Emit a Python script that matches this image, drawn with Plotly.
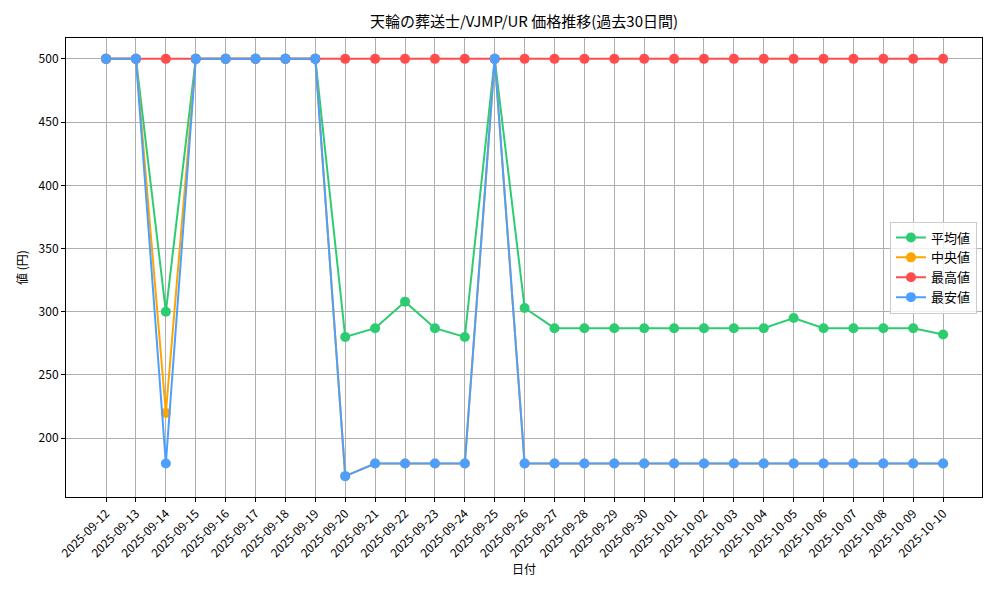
import plotly.graph_objects as go

# データ
dates = [
    "2025-09-12", "2025-09-13", "2025-09-14", "2025-09-15", "2025-09-16",
    "2025-09-17", "2025-09-18", "2025-09-19", "2025-09-20", "2025-09-21",
    "2025-09-22", "2025-09-23", "2025-09-24", "2025-09-25", "2025-09-26",
    "2025-09-27", "2025-09-28", "2025-09-29", "2025-09-30", "2025-10-01",
    "2025-10-02", "2025-10-03", "2025-10-04", "2025-10-05", "2025-10-06",
    "2025-10-07", "2025-10-08", "2025-10-09", "2025-10-10",
]
avg_price = [500, 500, 300, 500, 500, 500, 500, 500, 280, 287,
             308, 287, 280, 500, 303, 287, 287, 287, 287, 287,
             287, 287, 287, 295, 287, 287, 287, 287, 282]
median_price = [500, 500, 220, 500, 500, 500, 500, 500, 170, 180,
                180, 180, 180, 500, 180, 180, 180, 180, 180, 180,
                180, 180, 180, 180, 180, 180, 180, 180, 180]
max_price = [500] * 29
min_price = [500, 500, 180, 500, 500, 500, 500, 500, 170, 180,
             180, 180, 180, 500, 180, 180, 180, 180, 180, 180,
             180, 180, 180, 180, 180, 180, 180, 180, 180]

series = [
    ("平均値", avg_price, "#2ecc71"),
    ("中央値", median_price, "#ffa500"),
    ("最高値", max_price, "#ff4d4d"),
    ("最安値", min_price, "#4d9fff"),
]

FONT = "Noto Sans CJK JP, DejaVu Sans, sans-serif"

fig = go.Figure()
for name, vals, color in series:
    fig.add_trace(go.Scatter(
        x=dates, y=vals, mode="lines+markers", name=name,
        line=dict(color=color, width=2),
        marker=dict(color=color, size=10),
    ))

# ページの余白(8px)を考慮したマージン
fig.update_layout(
    width=1000, height=600,
    paper_bgcolor="white", plot_bgcolor="white",
    font=dict(family=FONT, size=12, color="black"),
    title=dict(text="天輪の葬送士/VJMP/UR 価格推移(過去30日間)",
               x=0.516, xanchor="center", y=0.977, yanchor="middle",
               font=dict(size=15)),
    margin=dict(l=58, r=26, t=30, b=111),
    showlegend=True,
    legend=dict(x=0.9945, xanchor="right", y=0.5, yanchor="middle",
                bgcolor="rgba(255,255,255,0.8)", bordercolor="#cccccc",
                borderwidth=1, font=dict(size=13), tracegroupgap=2),
)
fig.update_xaxes(
    type="category", range=[-1.34, 29.3], tickangle=-45,
    showgrid=True, gridcolor="#b0b0b0", gridwidth=1,
    showline=True, linecolor="black", linewidth=1, mirror=True,
    ticks="outside", ticklen=4, tickcolor="black",
    title=dict(text="日付", font=dict(size=12), standoff=6),
    tickfont=dict(size=12),
)
fig.update_yaxes(
    range=[153.5, 516.5], tickvals=[200, 250, 300, 350, 400, 450, 500],
    showgrid=True, gridcolor="#b0b0b0", gridwidth=1,
    showline=True, linecolor="black", linewidth=1, mirror=True,
    ticks="outside", ticklen=4, tickcolor="black", zeroline=False,
    title=dict(text="値 (円)", font=dict(size=12), standoff=8),
    tickfont=dict(size=12),
)

fig.write_html("out.html")
